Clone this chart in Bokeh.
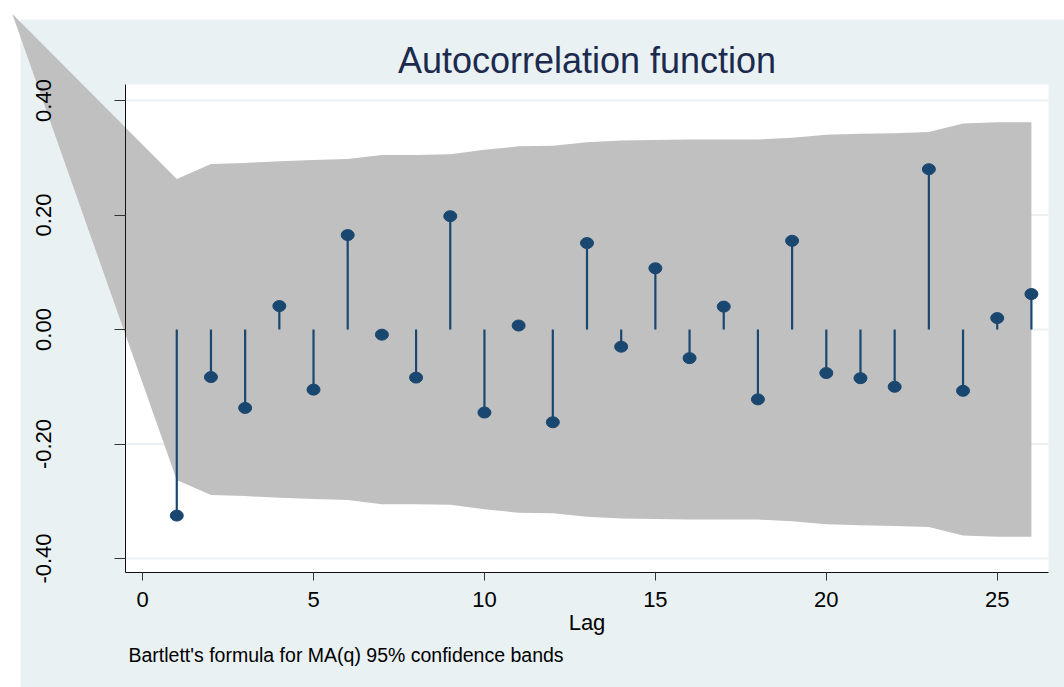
from bokeh.plotting import figure
from bokeh.models import (FixedTicker, PrintfTickFormatter, Range1d, LinearAxis,
                          ColumnDataSource, Label)
from bokeh.embed import file_html
from bokeh.resources import INLINE

# ---- data ----
lags = list(range(1, 27))
acf = [-0.325, -0.083, -0.137, 0.041, -0.105, 0.165, -0.009, -0.084, 0.198, -0.145,
       0.007, -0.162, 0.151, -0.030, 0.107, -0.050, 0.040, -0.122, 0.155, -0.076,
       -0.085, -0.100, 0.280, -0.107, 0.020, 0.062]
band_upper = [0.263, 0.289, 0.291, 0.294, 0.296, 0.298, 0.305, 0.305, 0.306, 0.314,
              0.320, 0.321, 0.327, 0.330, 0.331, 0.332, 0.332, 0.332, 0.335, 0.340,
              0.342, 0.343, 0.345, 0.360, 0.362, 0.362]
band_lower = [-u for u in band_upper]
band_origin_x = -3.814
band_origin_y = 0.5514
x_ticks = [0, 5, 10, 15, 20, 25]
y_ticks = [-0.4, -0.2, 0.0, 0.2, 0.4]

# ---- plot region / layout (data units) ----
X0, X1 = -0.5, 26.5            # plot region x extent
Y0, Y1 = -0.4245, 0.4279       # plot region y extent
CANVAS_X = (-4.1566, 26.968)
CANVAS_Y = (-0.6253, 0.5747)
GRAPH_LEFT, GRAPH_TOP = -3.5715, 0.5415   # edge of the light graph region

BG = "#E9F1F3"
NAVY = "#1A476F"
BAND = "#C0C0C0"
FONT = "Liberation Sans"

p = figure(width=1064, height=687,
           x_range=Range1d(*CANVAS_X), y_range=Range1d(*CANVAS_Y),
           x_axis_type=None, y_axis_type=None, title_location=None,
           output_backend="svg", toolbar_location=None,
           min_border=0, min_border_left=0, min_border_right=0,
           min_border_top=0, min_border_bottom=0,
           background_fill_color="white", border_fill_color="white")
p.outline_line_color = None

# graph region (light blue-gray) and plot region (white)
p.quad(left=[GRAPH_LEFT], right=[CANVAS_X[1]], bottom=[CANVAS_Y[0]], top=[GRAPH_TOP],
       fill_color=BG, line_color=None)
p.quad(left=[X0], right=[X1], bottom=[Y0], top=[Y1], fill_color="white", line_color=None)

# horizontal grid lines
p.segment(x0=[X0] * len(y_ticks), y0=y_ticks, x1=[X1] * len(y_ticks), y1=y_ticks,
          line_color=BG, line_width=2)

# confidence band
band_xs = [band_origin_x] + lags + lags[::-1]
band_ys = [band_origin_y] + band_upper + band_lower[::-1]
p.patch(band_xs, band_ys, fill_color=BAND, line_color=None)

src = ColumnDataSource(dict(lag=lags, acf=acf, zero=[0.0] * len(lags)))
p.segment(x0="lag", y0="zero", x1="lag", y1="acf", source=src,
          line_color=NAVY, line_width=2.2)
p.ellipse(x="lag", y="acf", width=13, height=11, width_units="screen",
          height_units="screen", source=src, fill_color=NAVY, line_color=NAVY)

# axes at fixed locations
xaxis = LinearAxis(fixed_location=Y0, bounds=(X0, X1), ticker=FixedTicker(ticks=x_ticks))
yaxis = LinearAxis(fixed_location=X0, bounds=(Y0, Y1), ticker=FixedTicker(ticks=y_ticks),
                   formatter=PrintfTickFormatter(format="%.2f"))
for ax in (xaxis, yaxis):
    ax.axis_line_color = "#111111"
    ax.axis_line_width = 1
    ax.major_tick_line_color = "#333333"
    ax.major_tick_in = 0
    ax.minor_tick_line_color = None
    ax.major_label_text_font = FONT
    ax.major_label_text_font_size = "22px"
    ax.major_label_text_color = "black"

xaxis.major_tick_out = 8
xaxis.major_label_standoff = 11
xaxis.axis_label = "Lag"
xaxis.axis_label_text_font = FONT
xaxis.axis_label_text_font_size = "22px"
xaxis.axis_label_text_font_style = "normal"
xaxis.axis_label_text_color = "black"
xaxis.axis_label_standoff = 0

yaxis.major_label_orientation = "vertical"
yaxis.major_tick_out = 11
yaxis.major_label_standoff = 64

p.add_layout(xaxis, "below")
p.add_layout(yaxis, "left")

# titles
p.add_layout(Label(x=13.0, y=0.4699, text="Autocorrelation function", text_align="center",
                   text_baseline="alphabetic", text_font=FONT, text_font_size="36px",
                   text_color="#1C2A4E"))
p.add_layout(Label(x=-0.412, y=-0.5677, text="Bartlett's formula for MA(q) 95% confidence bands",
                   text_align="left", text_baseline="alphabetic", text_font=FONT,
                   text_font_size="19.5px", text_color="black"))

open("out.html", "w").write(file_html(p, INLINE))
